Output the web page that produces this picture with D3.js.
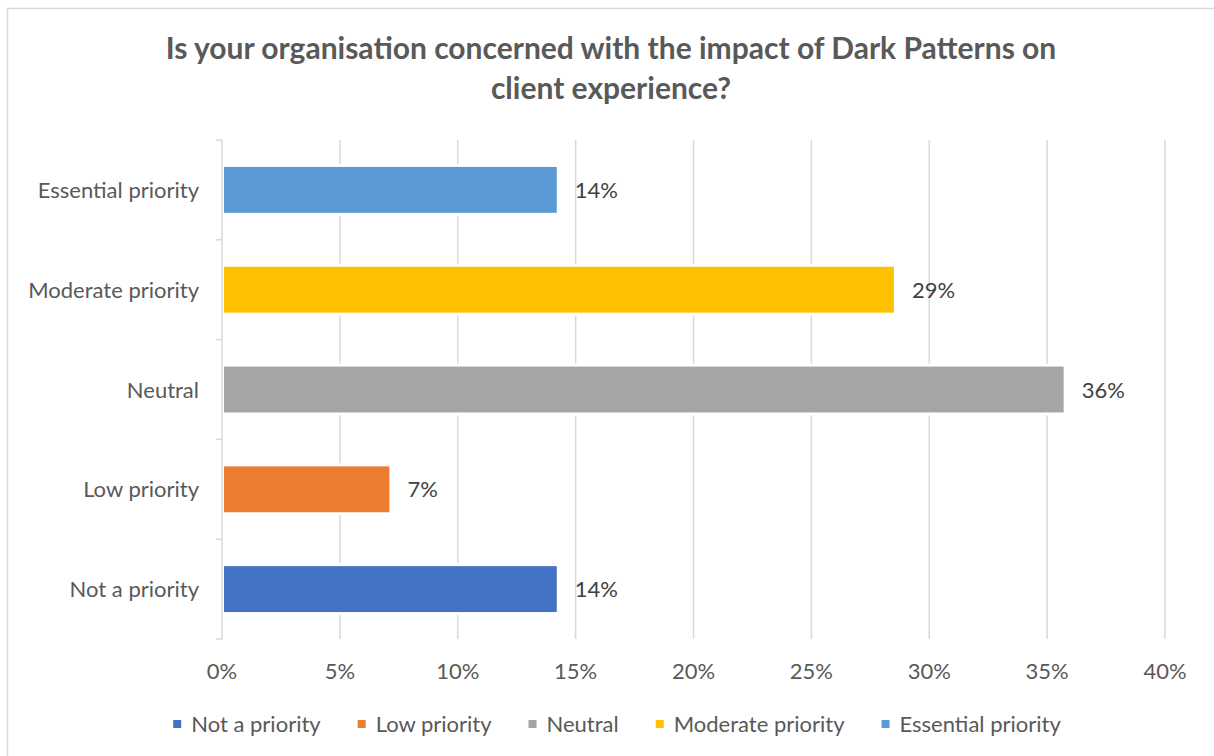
<!DOCTYPE html>
<html>
<head>
<meta charset="utf-8">
<script src="https://cdn.jsdelivr.net/npm/d3@7"></script>
<style>
  body { margin: 0; background: #fff; }
  text { font-family: Lato, "Open Sans", sans-serif; }
</style>
</head>
<body>
<svg width="1214" height="756"></svg>
<script>
// chart data
var categories = ["Not a priority", "Low priority", "Neutral", "Moderate priority", "Essential priority"];
var values = [14.2, 7.1, 35.7, 28.5, 14.2];
var valueLabels = ["14%", "7%", "36%", "29%", "14%"];
var colors = ["#4472C4", "#ED7D31", "#A5A5A5", "#FFC000", "#5B9BD5"];
var xTicks = [0, 5, 10, 15, 20, 25, 30, 35, 40];
var titleLines = ["Is your organisation concerned with the impact of Dark Patterns on", "client experience?"];

var svg = d3.select("svg");
var grid = "#d9d9d9";

svg.append("rect").attr("width", 1214).attr("height", 756).attr("fill", "#fff");

// outer chart border (left and top only visible)
svg.append("path")
    .attr("d", "M7.5,756V8.5H1214")
    .attr("fill", "none")
    .attr("stroke", grid)
    .attr("stroke-width", 1.5);

svg.append("text")
    .attr("text-anchor", "middle")
    .attr("font-weight", "bold")
    .attr("font-size", 30)
    .attr("fill", "#595959")
    .selectAll("tspan")
    .data(titleLines)
    .enter()
    .append("tspan")
    .attr("x", 611)
    .attr("y", function(d, i){ return 59 + i * 40; })
    .text(function(d){ return d; });

var xScale = d3.scaleLinear().domain([0, 40]).range([222, 1165]);
var yScale = d3.scaleBand()
    .domain(categories.slice().reverse())
    .range([140, 639])
    .paddingInner(0.54)
    .paddingOuter(0.27);

// vertical gridlines
svg.append("g")
    .selectAll("line")
    .data(xTicks.slice(1))
    .enter()
    .append("line")
    .attr("x1", function(d){ return xScale(d); })
    .attr("x2", function(d){ return xScale(d); })
    .attr("y1", 140)
    .attr("y2", 639)
    .attr("stroke", grid)
    .attr("stroke-width", 1.5);

// category axis with ticks between bands
var edges = d3.range(categories.length + 1).map(function(i){ return 140 + i * (499 / categories.length); });
svg.append("line")
    .attr("x1", 222).attr("x2", 222)
    .attr("y1", 140).attr("y2", 639)
    .attr("stroke", grid).attr("stroke-width", 1.5);
svg.append("g")
    .selectAll("line")
    .data(edges)
    .enter()
    .append("line")
    .attr("x1", 216).attr("x2", 222)
    .attr("y1", function(d){ return d; })
    .attr("y2", function(d){ return d; })
    .attr("stroke", grid).attr("stroke-width", 1.5);

var rows = categories.map(function(c, i){ return {cat: c, v: values[i], label: valueLabels[i], color: colors[i]}; });

// white halo behind bars (gridlines break around them)
svg.append("g")
    .selectAll("rect")
    .data(rows)
    .enter()
    .append("rect")
    .attr("x", xScale(0) + 1)
    .attr("y", function(d){ return yScale(d.cat) - 3; })
    .attr("width", function(d){ return xScale(d.v) - xScale(0) + 2; })
    .attr("height", yScale.bandwidth() + 6)
    .attr("fill", "#fff");

svg.append("g")
    .selectAll("rect")
    .data(rows)
    .enter()
    .append("rect")
    .attr("x", xScale(0) + 2)
    .attr("y", function(d){ return yScale(d.cat); })
    .attr("width", function(d){ return xScale(d.v) - xScale(0) - 2; })
    .attr("height", yScale.bandwidth())
    .attr("fill", function(d){ return d.color; });

// value labels
svg.append("g")
    .selectAll("text")
    .data(rows)
    .enter()
    .append("text")
    .attr("x", function(d){ return xScale(d.v) + 18; })
    .attr("y", function(d){ return yScale(d.cat) + yScale.bandwidth() / 2 + 8; })
    .attr("font-size", 22)
    .attr("fill", "#404040")
    .text(function(d){ return d.label; });

// category labels
svg.append("g")
    .selectAll("text")
    .data(rows)
    .enter()
    .append("text")
    .attr("x", 199)
    .attr("y", function(d){ return yScale(d.cat) + yScale.bandwidth() / 2 + 8; })
    .attr("text-anchor", "end")
    .attr("font-size", 22)
    .attr("fill", "#595959")
    .text(function(d){ return d.cat; });

// x tick labels
svg.append("g")
    .selectAll("text")
    .data(xTicks)
    .enter()
    .append("text")
    .attr("x", function(d){ return xScale(d); })
    .attr("y", 679)
    .attr("text-anchor", "middle")
    .attr("font-size", 22)
    .attr("fill", "#595959")
    .text(function(d){ return d + "%"; });

// legend
var legend = svg.append("g");
var items = legend.selectAll("g")
    .data(rows)
    .enter()
    .append("g");
items.append("rect")
    .attr("width", 8).attr("height", 8)
    .attr("y", 720)
    .attr("fill", function(d){ return d.color; });
items.append("text")
    .attr("x", 18)
    .attr("y", 732)
    .attr("font-size", 22)
    .attr("fill", "#595959")
    .text(function(d){ return d.cat; });

var widths = [];
items.each(function(){
    widths.push(18 + d3.select(this).select("text").node().getComputedTextLength());
});
var gap = 37;
var total = d3.sum(widths) + gap * (widths.length - 1);
var lx = 617 - total / 2;
items.attr("transform", function(d, i){
    var t = "translate(" + lx + ",0)";
    lx += widths[i] + gap;
    return t;
});
</script>
</body>
</html>
